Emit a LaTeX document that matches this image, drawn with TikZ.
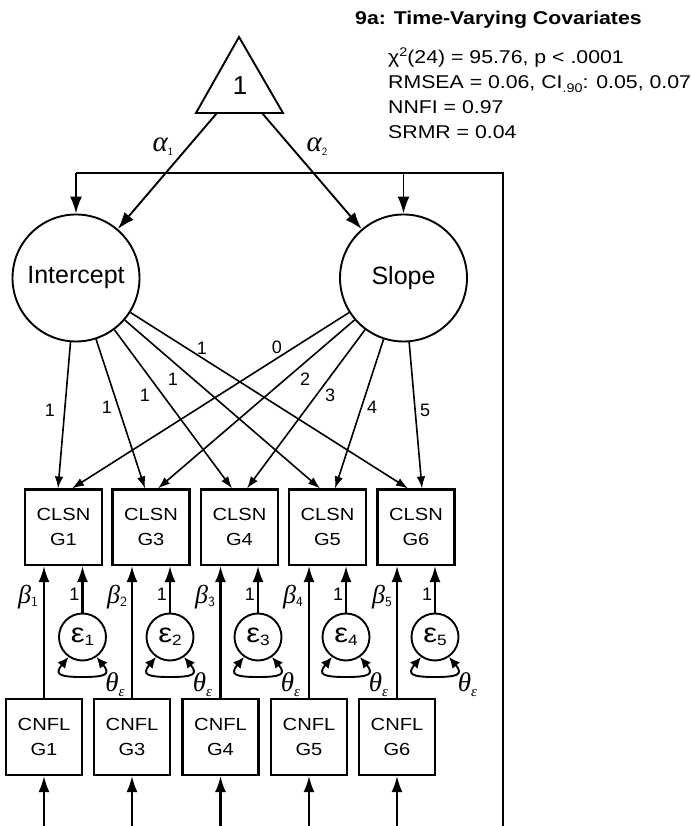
\documentclass[tikz,border=0pt]{standalone}
\usepackage{fontspec}
\setmainfont{Liberation Sans}
\newfontfamily\widesans[FakeStretch=1.15]{Liberation Sans}
\newfontfamily\greekserif{Liberation Serif}
\usetikzlibrary{arrows.meta,calc}
\newcommand\pxsize[2]{\fontsize{#1}{#2}\selectfont}
\newcommand\dropsub[3]{\raisebox{-#1pt}{\pxsize{#2}{#2}#3}}
\newcommand\upsup[3]{\raisebox{#1pt}{\pxsize{#2}{#2}#3}}

\begin{document}
\begin{tikzpicture}[x=1pt,y=1pt,line join=miter,
  obs/.style={draw, line width=2.1pt, minimum width=77pt, minimum height=75.5pt,
    inner sep=0pt, align=center, font=\widesans\pxsize{17.5}{25}},
  cnfl/.style={obs, minimum width=76pt, minimum height=76pt},
  latent/.style={circle, draw, line width=1.9pt, minimum size=127pt, inner sep=0pt,
    font=\pxsize{25}{25}},
  err/.style={circle, draw, line width=1.9pt, minimum size=47pt, inner sep=0pt,
    font=\widesans\pxsize{27}{27}},
  load/.style={-{Latex[length=12pt,width=8.5pt]}, line width=1.6pt},
  regr/.style={-{Latex[length=16pt,width=11pt]}, line width=2.1pt},
  mean/.style={-{Latex[length=17pt,width=12pt]}, line width=1.9pt},
  var/.style={{Latex[length=11pt,width=10pt]}-{Latex[length=11pt,width=10pt]}, line width=1.9pt},
  lbl/.style={inner sep=0pt, font=\pxsize{18}{18}},
  stat/.style={anchor=base west, inner sep=0pt, font=\widesans\pxsize{18.5}{18.5}},
  coef/.style={inner sep=0pt, font=\greekserif\itshape\pxsize{26}{26}},
  theta/.style={inner sep=0pt, font=\greekserif\itshape\pxsize{27}{27}},
  alph/.style={inner sep=0pt, font=\greekserif\itshape\pxsize{29}{29}}
]
\useasboundingbox (0,0) rectangle (691,826);

% ---- fit statistics ----
\node[stat, font=\widesans\bfseries\pxsize{18.5}{18.5}] (title) at (355,801) {9a: Time-Varying Covariates};
\node[stat] (chi)   at (388,762) {χ\upsup{7}{12.5}{2}(24) = 95.76, p < .0001};
\node[stat] (rmsea) at (388,737) {RMSEA = 0.06, CI\dropsub{4}{12.5}{.90}: 0.05, 0.07};
\node[stat] (nnfi)  at (388,712) {NNFI = 0.97};
\node[stat] (srmr)  at (388,687) {SRMR = 0.04};

% ---- constant (mean structure) ----
\coordinate (apex) at (239,789);
\coordinate (bl) at (196,713);
\coordinate (br) at (283,713);
\draw[line width=1.9pt] (apex) -- (br) -- (bl) -- cycle;
\node[inner sep=0pt, font=\pxsize{26}{26}] (one) at (240,740) {1};
\coordinate (t1) at (217,713);
\coordinate (t2) at (262,713);

% ---- growth factors ----
\node[latent] (I) at (76,548) {Intercept};
\node[latent] (S) at (403.5,548) {Slope};

\draw[mean] (t1) -- (I);
\draw[mean] (t2) -- (S);
\node[alph] (a1) at (163,679) {α\dropsub{4}{11}{\upshape\sffamily 1}};
\node[alph] (a2) at (317,679) {α\dropsub{4}{11}{\upshape\sffamily 2}};

% factor covariance bracket
\coordinate (rb) at (503,0);
\coordinate (rt) at (503,653);
\coordinate (lt) at (76,653);
\coordinate (st) at (403.5,653);
\draw[line width=1.9pt] (rb) -- (rt) -- (lt);
\draw[mean] (lt) -- (I.north);
\draw[mean] (st) -- (S.north);

% ---- repeated measures ----
\node[obs] (c1) at (63.5,298.75) {CLSN\\G1};
\node[obs] (c2) at (151,298.75) {CLSN\\G3};
\node[obs] (c3) at (239.5,298.75) {CLSN\\G4};
\node[obs] (c4) at (327.5,298.75) {CLSN\\G5};
\node[obs] (c5) at (416,298.75) {CLSN\\G6};

% intercept loadings
\draw[load] (I) -- ($(c1.north)+(-5.5,0)$);
\draw[load] (I) -- ($(c2.north)+(-6,0)$);
\draw[load] (I) -- ($(c3.north)+(-7.5,0)$);
\draw[load] (I) -- ($(c4.north)+(-7.5,0)$);
\draw[load] (I) -- ($(c5.north)+(-8,0)$);
% slope loadings
\draw[load] (S) -- ($(c1.north)+(8.5,0)$);
\draw[load] (S) -- ($(c2.north)+(7,0)$);
\draw[load] (S) -- ($(c3.north)+(7.5,0)$);
\draw[load] (S) -- ($(c4.north)+(7.5,0)$);
\draw[load] (S) -- ($(c5.north)+(6,0)$);

\node[lbl] (li1) at (50,416) {1};
\node[lbl] (li2) at (107,419) {1};
\node[lbl] (li3) at (145,431) {1};
\node[lbl] (li4) at (173,447) {1};
\node[lbl] (li5) at (202,478) {1};
\node[lbl] (ls1) at (277,479) {0};
\node[lbl] (ls2) at (305,447) {2};
\node[lbl] (ls3) at (330,431) {3};
\node[lbl] (ls4) at (372,419) {4};
\node[lbl] (ls5) at (425,416) {5};

% ---- time-varying covariates ----
\node[cnfl] (n1) at (44,89) {CNFL\\G1};
\node[cnfl] (n2) at (132,89) {CNFL\\G3};
\node[cnfl] (n3) at (220.5,89) {CNFL\\G4};
\node[cnfl] (n4) at (309,89) {CNFL\\G5};
\node[cnfl] (n5) at (397,89) {CNFL\\G6};

\foreach \k/\x in {1/44,2/132,3/220.5,4/309,5/397}{
  \coordinate (b\k) at (\x,0);
  \draw[regr] (b\k) -- (n\k.south);
  \draw[regr] (n\k.north) -- (n\k.north |- c\k.south);
}

% ---- residuals with variance loops ----
\foreach \k/\x in {1/82.5,2/170,3/258,4/346,5/435}{
  \node[err] (e\k) at (\x,189) {ε\dropsub{3}{15}{\k}};
  \draw[regr] (e\k) -- (e\k |- c\k.south);
  \coordinate (lb\k) at ($(e\k)+(0,-40)$);
  \draw[var] (e\k.235) to[out=230,in=180,looseness=2.4] (lb\k)
                       to[out=0,in=310,looseness=2.4] (e\k.305);
  \node[lbl] (u\k) at ($(e\k)+(-8,43)$) {1};
  \node[theta] (th\k) at ($(e\k)+(32.5,-48)$) {θ\dropsub{5}{15}{ε}};
}

% regression weights
\node[coef] (beta1) at (28,229) {β\dropsub{3}{14}{\upshape\sffamily 1}};
\node[coef] (beta2) at (117,229) {β\dropsub{3}{14}{\upshape\sffamily 2}};
\node[coef] (beta3) at (205,229) {β\dropsub{3}{14}{\upshape\sffamily 3}};
\node[coef] (beta4) at (293,229) {β\dropsub{3}{14}{\upshape\sffamily 4}};
\node[coef] (beta5) at (382,229) {β\dropsub{3}{14}{\upshape\sffamily 5}};
\end{tikzpicture}
\end{document}
